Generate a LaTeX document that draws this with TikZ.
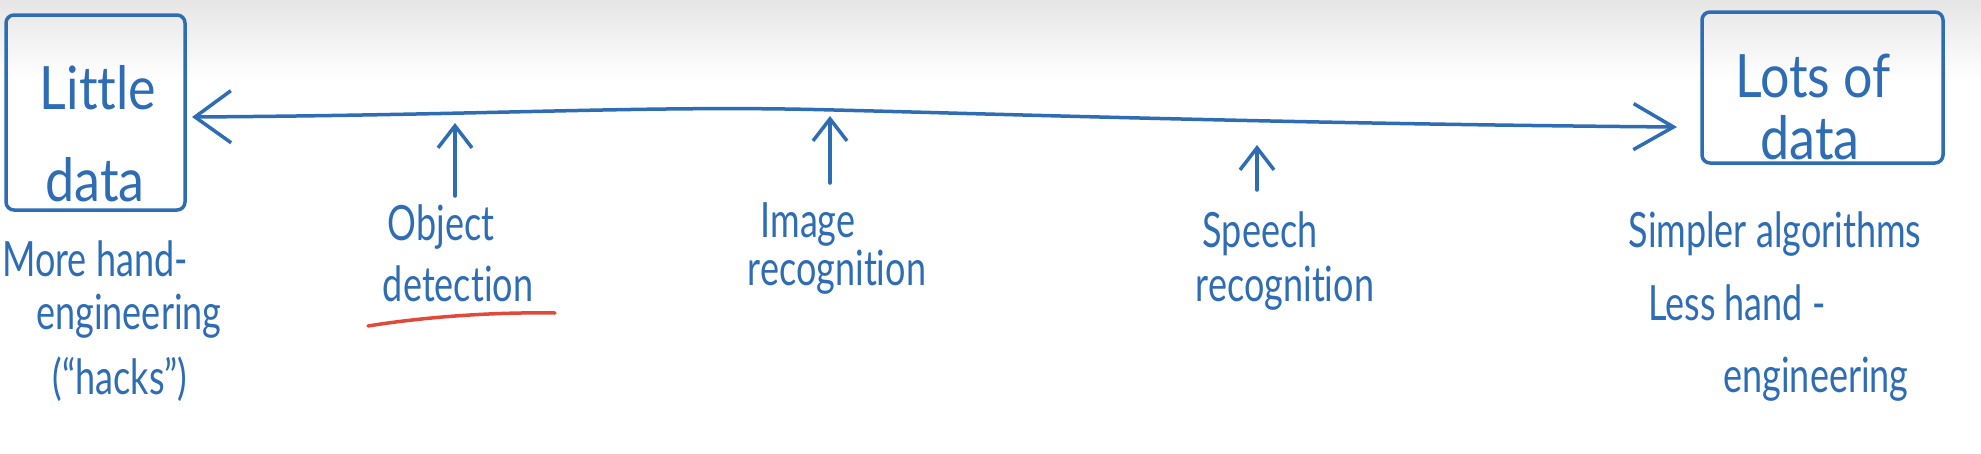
\documentclass[tikz,border=0pt]{standalone}
\usepackage{fontspec}
\usepackage{graphicx}
\setmainfont{Lato}[Ligatures=NoCommon]
\usetikzlibrary{arrows.meta}
\definecolor{ink}{HTML}{2E6DB4}
\definecolor{redink}{HTML}{E04A3A}
\newcommand{\tallt}[1]{\scalebox{1}[1.35]{#1}}
\newcommand{\boxt}[1]{\scalebox{1}[1.15]{#1}}
\begin{document}
\begin{tikzpicture}[x=1pt,y=-1pt,
  hbox/.style={draw=ink, line width=3.5pt, rounded corners=8pt, inner sep=0pt},
  boxtxt/.style={text=ink, inner sep=0pt, font=\fontsize{52}{60}\selectfont},
  lbl/.style={text=ink, inner sep=0pt, font=\fontsize{36}{40}\selectfont},
  main/.style={draw=ink, line width=3.5pt, line cap=round, {Straight Barb[length=36pt,width=52pt]}-{Straight Barb[length=40pt,width=46pt]}},
  uparr/.style={draw=ink, line width=3.5pt, line cap=round, -{Straight Barb[length=22pt,width=34pt]}}
]
\useasboundingbox (0,0) rectangle (1981,453);
\fill[white] (0,0) rectangle (1981,453);
\shade[top color=black!10, bottom color=white] (0,0) rectangle (1981,80);

% boxes
\node[hbox, minimum width=179pt, minimum height=195pt] (little) at (95.5,112.5) {};
\node[hbox, minimum width=241pt, minimum height=151pt] (lots) at (1822.5,87.5) {};
\node[boxtxt] (little1) at (98,88) {\boxt{Little}};
\node[boxtxt] (little2) at (95,180) {\boxt{data}};
\node[boxtxt] (lots1) at (1813,76) {\boxt{Lots of}};
\node[boxtxt] (lots2) at (1810,138) {\boxt{data}};

% main double arrow
\coordinate (Ltip) at (192,117);
\coordinate (Rtip) at (1677,127);
\draw[main] (Ltip) .. controls (500,115) and (650,105) .. (834,110) .. controls (1000,114) and (1300,124) .. (Rtip);

% left labels
\node[lbl] (lh1) at (95,259) {\tallt{More hand-}};
\node[lbl] (lh2) at (129,316) {\tallt{engineering}};
\node[lbl] (lh3) at (120,379) {\tallt{(“hacks”)}};

% object detection
\node[lbl] (ob1) at (441,227) {\tallt{Object}};
\node[lbl] (ob2) at (458,284) {\tallt{detection}};
\coordinate (obtail) at (455,196);
\coordinate (obtip) at (455,123);
\draw[uparr] (obtail) -- (obtip);
\draw[redink, line width=3.5pt, line cap=round] (368,326) .. controls (430,316) and (500,312) .. (555,313);

% image recognition
\node[lbl] (im1) at (808,225) {\tallt{Image}};
\node[lbl] (im2) at (837,272) {\tallt{recognition}};
\coordinate (imtail) at (830,183);
\coordinate (imtip) at (830,116);
\draw[uparr] (imtail) -- (imtip);

% speech recognition
\node[lbl] (sp1) at (1260,234) {\tallt{Speech}};
\node[lbl] (sp2) at (1285,288) {\tallt{recognition}};
\coordinate (sptail) at (1257,190);
\coordinate (sptip) at (1257,145);
\draw[uparr] (sptail) -- (sptip);

% right labels
\node[lbl] (rh1) at (1775,234) {\tallt{Simpler algorithms}};
\node[lbl] (rh2) at (1737,303) {\tallt{Less hand -}};
\node[lbl] (rh3) at (1816,379) {\tallt{engineering}};
\end{tikzpicture}
\end{document}
